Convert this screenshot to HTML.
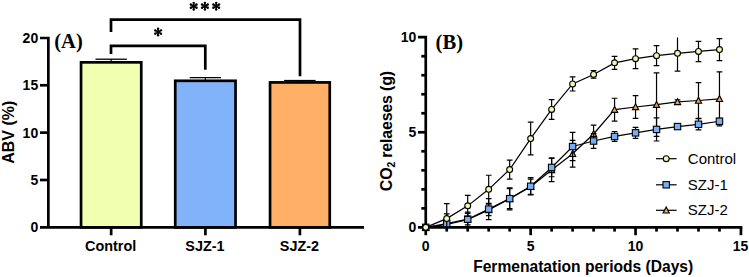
<!DOCTYPE html><html><head><meta charset="utf-8"><style>html,body{margin:0;padding:0;background:#fff;}svg{display:block;}.s{font-family:"Liberation Sans",sans-serif;}.b{font-weight:bold;}.t{font-family:"Liberation Serif",serif;font-weight:bold;}</style></head><body>
<svg width="749" height="277" viewBox="0 0 749 277">
<rect width="749" height="277" fill="#fff"/>
<rect x="81.05" y="62.34" width="60.20" height="165.01" fill="#F0FFB0" stroke="#000" stroke-width="2.7"/>
<line x1="111.15" y1="62.34" x2="111.15" y2="59.21" stroke="#000" stroke-width="1.2"/>
<line x1="95.45" y1="59.21" x2="126.85" y2="59.21" stroke="#000" stroke-width="1.3"/>
<line x1="111.15" y1="227.35" x2="111.15" y2="235.3" stroke="#000" stroke-width="2.7"/>
<text x="110.65" y="251.2" text-anchor="middle" class="s b" font-size="14.4">Control</text>
<rect x="175.25" y="80.81" width="60.30" height="146.54" fill="#80B3FA" stroke="#000" stroke-width="2.7"/>
<line x1="205.40" y1="80.81" x2="205.40" y2="77.68" stroke="#000" stroke-width="1.2"/>
<line x1="189.70" y1="77.68" x2="221.10" y2="77.68" stroke="#000" stroke-width="1.3"/>
<line x1="205.40" y1="227.35" x2="205.40" y2="235.3" stroke="#000" stroke-width="2.7"/>
<text x="204.90" y="251.2" text-anchor="middle" class="s b" font-size="14.4">SJZ-1</text>
<rect x="270.05" y="82.42" width="59.70" height="144.93" fill="#FFB066" stroke="#000" stroke-width="2.7"/>
<line x1="299.90" y1="82.42" x2="299.90" y2="80.53" stroke="#000" stroke-width="1.2"/>
<line x1="284.20" y1="80.53" x2="315.60" y2="80.53" stroke="#000" stroke-width="1.3"/>
<line x1="299.90" y1="227.35" x2="299.90" y2="235.3" stroke="#000" stroke-width="2.7"/>
<text x="299.40" y="251.2" text-anchor="middle" class="s b" font-size="14.4">SJZ-2</text>
<path d="M40 38 H48.35 V227.35" fill="none" stroke="#000" stroke-width="2.7"/>
<line x1="40" y1="227.35" x2="364" y2="227.35" stroke="#000" stroke-width="2.7"/>
<line x1="40" y1="179.99" x2="48" y2="179.99" stroke="#000" stroke-width="2.7"/>
<line x1="40" y1="132.62" x2="48" y2="132.62" stroke="#000" stroke-width="2.7"/>
<line x1="40" y1="85.26" x2="48" y2="85.26" stroke="#000" stroke-width="2.7"/>
<text x="38.2" y="232.25" text-anchor="end" class="s b" font-size="14">0</text>
<text x="38.2" y="184.89" text-anchor="end" class="s b" font-size="14">5</text>
<text x="38.2" y="137.53" text-anchor="end" class="s b" font-size="14">10</text>
<text x="38.2" y="90.16" text-anchor="end" class="s b" font-size="14">15</text>
<text x="38.2" y="42.80" text-anchor="end" class="s b" font-size="14">20</text>
<text transform="translate(14,132.3) rotate(-90)" text-anchor="middle" class="s b" font-size="16">ABV (%)</text>
<text x="54.3" y="47.9" class="t" font-size="20.5">(A)</text>
<path d="M111 32 V19.7 H300 V76.3" fill="none" stroke="#000" stroke-width="2.7"/>
<path d="M111 54 V45.8 H205.3 V69.7" fill="none" stroke="#000" stroke-width="2.7"/>
<path d="M158.10 28.70L158.10 35.30M155.24 30.35L160.96 33.65M160.96 30.35L155.24 33.65" stroke="#000" stroke-width="1.6" fill="none"/><circle cx="158.10" cy="28.70" r="1.2"/><circle cx="158.10" cy="35.30" r="1.2"/><circle cx="155.24" cy="30.35" r="1.2"/><circle cx="160.96" cy="33.65" r="1.2"/><circle cx="160.96" cy="30.35" r="1.2"/><circle cx="155.24" cy="33.65" r="1.2"/>
<path d="M193.70 2.85L193.70 9.45M190.84 4.50L196.56 7.80M196.56 4.50L190.84 7.80" stroke="#000" stroke-width="1.6" fill="none"/><circle cx="193.70" cy="2.85" r="1.2"/><circle cx="193.70" cy="9.45" r="1.2"/><circle cx="190.84" cy="4.50" r="1.2"/><circle cx="196.56" cy="7.80" r="1.2"/><circle cx="196.56" cy="4.50" r="1.2"/><circle cx="190.84" cy="7.80" r="1.2"/>
<path d="M204.90 2.85L204.90 9.45M202.04 4.50L207.76 7.80M207.76 4.50L202.04 7.80" stroke="#000" stroke-width="1.6" fill="none"/><circle cx="204.90" cy="2.85" r="1.2"/><circle cx="204.90" cy="9.45" r="1.2"/><circle cx="202.04" cy="4.50" r="1.2"/><circle cx="207.76" cy="7.80" r="1.2"/><circle cx="207.76" cy="4.50" r="1.2"/><circle cx="202.04" cy="7.80" r="1.2"/>
<path d="M216.20 2.85L216.20 9.45M213.34 4.50L219.06 7.80M219.06 4.50L213.34 7.80" stroke="#000" stroke-width="1.6" fill="none"/><circle cx="216.20" cy="2.85" r="1.2"/><circle cx="216.20" cy="9.45" r="1.2"/><circle cx="213.34" cy="4.50" r="1.2"/><circle cx="219.06" cy="7.80" r="1.2"/><circle cx="219.06" cy="4.50" r="1.2"/><circle cx="213.34" cy="7.80" r="1.2"/>
<path d="M418 37.2 H425.75 V227.35" fill="none" stroke="#000" stroke-width="2.7"/>
<line x1="418" y1="227.35" x2="742.3" y2="227.35" stroke="#000" stroke-width="2.7"/>
<line x1="421.3" y1="208.34" x2="425.75" y2="208.34" stroke="#000" stroke-width="2.7"/>
<line x1="421.3" y1="189.32" x2="425.75" y2="189.32" stroke="#000" stroke-width="2.7"/>
<line x1="421.3" y1="170.31" x2="425.75" y2="170.31" stroke="#000" stroke-width="2.7"/>
<line x1="421.3" y1="151.29" x2="425.75" y2="151.29" stroke="#000" stroke-width="2.7"/>
<line x1="418" y1="132.28" x2="425.75" y2="132.28" stroke="#000" stroke-width="2.7"/>
<line x1="421.3" y1="113.26" x2="425.75" y2="113.26" stroke="#000" stroke-width="2.7"/>
<line x1="421.3" y1="94.25" x2="425.75" y2="94.25" stroke="#000" stroke-width="2.7"/>
<line x1="421.3" y1="75.23" x2="425.75" y2="75.23" stroke="#000" stroke-width="2.7"/>
<line x1="421.3" y1="56.22" x2="425.75" y2="56.22" stroke="#000" stroke-width="2.7"/>
<line x1="425.75" y1="227.35" x2="425.75" y2="235.2" stroke="#000" stroke-width="2.7"/>
<line x1="446.73" y1="227.35" x2="446.73" y2="231.6" stroke="#000" stroke-width="2.7"/>
<line x1="467.71" y1="227.35" x2="467.71" y2="231.6" stroke="#000" stroke-width="2.7"/>
<line x1="488.69" y1="227.35" x2="488.69" y2="231.6" stroke="#000" stroke-width="2.7"/>
<line x1="509.67" y1="227.35" x2="509.67" y2="231.6" stroke="#000" stroke-width="2.7"/>
<line x1="530.65" y1="227.35" x2="530.65" y2="235.2" stroke="#000" stroke-width="2.7"/>
<line x1="551.63" y1="227.35" x2="551.63" y2="231.6" stroke="#000" stroke-width="2.7"/>
<line x1="572.61" y1="227.35" x2="572.61" y2="231.6" stroke="#000" stroke-width="2.7"/>
<line x1="593.59" y1="227.35" x2="593.59" y2="231.6" stroke="#000" stroke-width="2.7"/>
<line x1="614.57" y1="227.35" x2="614.57" y2="231.6" stroke="#000" stroke-width="2.7"/>
<line x1="635.55" y1="227.35" x2="635.55" y2="235.2" stroke="#000" stroke-width="2.7"/>
<line x1="656.53" y1="227.35" x2="656.53" y2="231.6" stroke="#000" stroke-width="2.7"/>
<line x1="677.51" y1="227.35" x2="677.51" y2="231.6" stroke="#000" stroke-width="2.7"/>
<line x1="698.49" y1="227.35" x2="698.49" y2="231.6" stroke="#000" stroke-width="2.7"/>
<line x1="719.47" y1="227.35" x2="719.47" y2="231.6" stroke="#000" stroke-width="2.7"/>
<line x1="740.95" y1="227.35" x2="740.95" y2="235.2" stroke="#000" stroke-width="2.7"/>
<text x="416.3" y="232.25" text-anchor="end" class="s b" font-size="14">0</text>
<text x="416.3" y="137.18" text-anchor="end" class="s b" font-size="14">5</text>
<text x="416.3" y="42.10" text-anchor="end" class="s b" font-size="14">10</text>
<text x="425.75" y="251" text-anchor="middle" class="s b" font-size="14">0</text>
<text x="530.65" y="251" text-anchor="middle" class="s b" font-size="14">5</text>
<text x="635.55" y="251" text-anchor="middle" class="s b" font-size="14">10</text>
<text x="740.45" y="251" text-anchor="middle" class="s b" font-size="14">15</text>
<text x="583.2" y="271.6" text-anchor="middle" class="s b" font-size="15.6">Fermenatation periods (Days)</text>
<text transform="translate(392.2,191.2) rotate(-90)" class="s b" font-size="16" letter-spacing="-0.2">CO<tspan font-size="10.5" dy="3">2</tspan><tspan dy="-3"> relaeses (g)</tspan></text>
<text x="435.6" y="49.3" class="t" font-size="20.6">(B)</text>
<defs><clipPath id="cp"><rect x="400" y="37.6" width="349" height="189.75"/></clipPath></defs>
<g clip-path="url(#cp)">
<line x1="446.73" y1="213.85" x2="446.73" y2="235.15" stroke="#000" stroke-width="1.2"/>
<line x1="443.88" y1="213.85" x2="449.58" y2="213.85" stroke="#000" stroke-width="1.2"/>
<line x1="443.88" y1="235.15" x2="449.58" y2="235.15" stroke="#000" stroke-width="1.2"/>
<line x1="467.71" y1="212.14" x2="467.71" y2="227.35" stroke="#000" stroke-width="1.2"/>
<line x1="464.86" y1="212.14" x2="470.56" y2="212.14" stroke="#000" stroke-width="1.2"/>
<line x1="464.86" y1="227.35" x2="470.56" y2="227.35" stroke="#000" stroke-width="1.2"/>
<line x1="488.69" y1="204.15" x2="488.69" y2="215.56" stroke="#000" stroke-width="1.2"/>
<line x1="485.84" y1="204.15" x2="491.54" y2="204.15" stroke="#000" stroke-width="1.2"/>
<line x1="485.84" y1="215.56" x2="491.54" y2="215.56" stroke="#000" stroke-width="1.2"/>
<line x1="509.67" y1="187.80" x2="509.67" y2="209.86" stroke="#000" stroke-width="1.2"/>
<line x1="506.82" y1="187.80" x2="512.52" y2="187.80" stroke="#000" stroke-width="1.2"/>
<line x1="506.82" y1="209.86" x2="512.52" y2="209.86" stroke="#000" stroke-width="1.2"/>
<line x1="530.65" y1="179.05" x2="530.65" y2="194.26" stroke="#000" stroke-width="1.2"/>
<line x1="527.80" y1="179.05" x2="533.50" y2="179.05" stroke="#000" stroke-width="1.2"/>
<line x1="527.80" y1="194.26" x2="533.50" y2="194.26" stroke="#000" stroke-width="1.2"/>
<line x1="551.63" y1="158.14" x2="551.63" y2="181.71" stroke="#000" stroke-width="1.2"/>
<line x1="548.78" y1="158.14" x2="554.48" y2="158.14" stroke="#000" stroke-width="1.2"/>
<line x1="548.78" y1="181.71" x2="554.48" y2="181.71" stroke="#000" stroke-width="1.2"/>
<line x1="572.61" y1="140.45" x2="572.61" y2="167.07" stroke="#000" stroke-width="1.2"/>
<line x1="569.76" y1="140.45" x2="575.46" y2="140.45" stroke="#000" stroke-width="1.2"/>
<line x1="569.76" y1="167.07" x2="575.46" y2="167.07" stroke="#000" stroke-width="1.2"/>
<line x1="593.59" y1="125.05" x2="593.59" y2="142.92" stroke="#000" stroke-width="1.2"/>
<line x1="590.74" y1="125.05" x2="596.44" y2="125.05" stroke="#000" stroke-width="1.2"/>
<line x1="590.74" y1="142.92" x2="596.44" y2="142.92" stroke="#000" stroke-width="1.2"/>
<line x1="614.57" y1="98.24" x2="614.57" y2="121.06" stroke="#000" stroke-width="1.2"/>
<line x1="611.72" y1="98.24" x2="617.42" y2="98.24" stroke="#000" stroke-width="1.2"/>
<line x1="611.72" y1="121.06" x2="617.42" y2="121.06" stroke="#000" stroke-width="1.2"/>
<line x1="635.55" y1="95.58" x2="635.55" y2="118.39" stroke="#000" stroke-width="1.2"/>
<line x1="632.70" y1="95.58" x2="638.40" y2="95.58" stroke="#000" stroke-width="1.2"/>
<line x1="632.70" y1="118.39" x2="638.40" y2="118.39" stroke="#000" stroke-width="1.2"/>
<line x1="656.53" y1="72.95" x2="656.53" y2="136.46" stroke="#000" stroke-width="1.2"/>
<line x1="653.68" y1="72.95" x2="659.38" y2="72.95" stroke="#000" stroke-width="1.2"/>
<line x1="653.68" y1="136.46" x2="659.38" y2="136.46" stroke="#000" stroke-width="1.2"/>
<line x1="677.51" y1="99.95" x2="677.51" y2="103.75" stroke="#000" stroke-width="1.2"/>
<line x1="674.66" y1="99.95" x2="680.36" y2="99.95" stroke="#000" stroke-width="1.2"/>
<line x1="674.66" y1="103.75" x2="680.36" y2="103.75" stroke="#000" stroke-width="1.2"/>
<line x1="698.49" y1="82.65" x2="698.49" y2="118.39" stroke="#000" stroke-width="1.2"/>
<line x1="695.64" y1="82.65" x2="701.34" y2="82.65" stroke="#000" stroke-width="1.2"/>
<line x1="695.64" y1="118.39" x2="701.34" y2="118.39" stroke="#000" stroke-width="1.2"/>
<line x1="719.47" y1="71.81" x2="719.47" y2="125.81" stroke="#000" stroke-width="1.2"/>
<line x1="716.62" y1="71.81" x2="722.32" y2="71.81" stroke="#000" stroke-width="1.2"/>
<line x1="716.62" y1="125.81" x2="722.32" y2="125.81" stroke="#000" stroke-width="1.2"/>
<polyline points="425.75,227.35 446.73,224.50 467.71,219.74 488.69,209.86 509.67,198.83 530.65,186.66 551.63,169.92 572.61,153.76 593.59,133.99 614.57,109.65 635.55,106.99 656.53,104.70 677.51,101.85 698.49,100.52 719.47,98.81" fill="none" stroke="#000" stroke-width="1.2"/>
</g>
<path d="M425.75 224.15 L428.85 230.05 L422.65 230.05Z" fill="#F2A055" stroke="#000" stroke-width="1.15" stroke-linejoin="miter"/>
<path d="M446.73 221.30 L449.83 227.20 L443.63 227.20Z" fill="#F2A055" stroke="#000" stroke-width="1.15" stroke-linejoin="miter"/>
<path d="M467.71 216.54 L470.81 222.44 L464.61 222.44Z" fill="#F2A055" stroke="#000" stroke-width="1.15" stroke-linejoin="miter"/>
<path d="M488.69 206.66 L491.79 212.56 L485.59 212.56Z" fill="#F2A055" stroke="#000" stroke-width="1.15" stroke-linejoin="miter"/>
<path d="M509.67 195.63 L512.77 201.53 L506.57 201.53Z" fill="#F2A055" stroke="#000" stroke-width="1.15" stroke-linejoin="miter"/>
<path d="M530.65 183.46 L533.75 189.36 L527.55 189.36Z" fill="#F2A055" stroke="#000" stroke-width="1.15" stroke-linejoin="miter"/>
<path d="M551.63 166.72 L554.73 172.62 L548.53 172.62Z" fill="#F2A055" stroke="#000" stroke-width="1.15" stroke-linejoin="miter"/>
<path d="M572.61 150.56 L575.71 156.46 L569.51 156.46Z" fill="#F2A055" stroke="#000" stroke-width="1.15" stroke-linejoin="miter"/>
<path d="M593.59 130.79 L596.69 136.69 L590.49 136.69Z" fill="#F2A055" stroke="#000" stroke-width="1.15" stroke-linejoin="miter"/>
<path d="M614.57 106.45 L617.67 112.35 L611.47 112.35Z" fill="#F2A055" stroke="#000" stroke-width="1.15" stroke-linejoin="miter"/>
<path d="M635.55 103.79 L638.65 109.69 L632.45 109.69Z" fill="#F2A055" stroke="#000" stroke-width="1.15" stroke-linejoin="miter"/>
<path d="M656.53 101.50 L659.63 107.40 L653.43 107.40Z" fill="#F2A055" stroke="#000" stroke-width="1.15" stroke-linejoin="miter"/>
<path d="M677.51 98.65 L680.61 104.55 L674.41 104.55Z" fill="#F2A055" stroke="#000" stroke-width="1.15" stroke-linejoin="miter"/>
<path d="M698.49 97.32 L701.59 103.22 L695.39 103.22Z" fill="#F2A055" stroke="#000" stroke-width="1.15" stroke-linejoin="miter"/>
<path d="M719.47 95.61 L722.57 101.51 L716.37 101.51Z" fill="#F2A055" stroke="#000" stroke-width="1.15" stroke-linejoin="miter"/>
<g clip-path="url(#cp)">
<line x1="446.73" y1="217.84" x2="446.73" y2="229.25" stroke="#000" stroke-width="1.2"/>
<line x1="443.88" y1="217.84" x2="449.58" y2="217.84" stroke="#000" stroke-width="1.2"/>
<line x1="443.88" y1="229.25" x2="449.58" y2="229.25" stroke="#000" stroke-width="1.2"/>
<line x1="467.71" y1="213.47" x2="467.71" y2="224.88" stroke="#000" stroke-width="1.2"/>
<line x1="464.86" y1="213.47" x2="470.56" y2="213.47" stroke="#000" stroke-width="1.2"/>
<line x1="464.86" y1="224.88" x2="470.56" y2="224.88" stroke="#000" stroke-width="1.2"/>
<line x1="488.69" y1="198.64" x2="488.69" y2="219.55" stroke="#000" stroke-width="1.2"/>
<line x1="485.84" y1="198.64" x2="491.54" y2="198.64" stroke="#000" stroke-width="1.2"/>
<line x1="485.84" y1="219.55" x2="491.54" y2="219.55" stroke="#000" stroke-width="1.2"/>
<line x1="509.67" y1="188.56" x2="509.67" y2="208.72" stroke="#000" stroke-width="1.2"/>
<line x1="506.82" y1="188.56" x2="512.52" y2="188.56" stroke="#000" stroke-width="1.2"/>
<line x1="506.82" y1="208.72" x2="512.52" y2="208.72" stroke="#000" stroke-width="1.2"/>
<line x1="530.65" y1="177.72" x2="530.65" y2="194.83" stroke="#000" stroke-width="1.2"/>
<line x1="527.80" y1="177.72" x2="533.50" y2="177.72" stroke="#000" stroke-width="1.2"/>
<line x1="527.80" y1="194.83" x2="533.50" y2="194.83" stroke="#000" stroke-width="1.2"/>
<line x1="551.63" y1="158.14" x2="551.63" y2="176.77" stroke="#000" stroke-width="1.2"/>
<line x1="548.78" y1="158.14" x2="554.48" y2="158.14" stroke="#000" stroke-width="1.2"/>
<line x1="548.78" y1="176.77" x2="554.48" y2="176.77" stroke="#000" stroke-width="1.2"/>
<line x1="572.61" y1="132.47" x2="572.61" y2="160.61" stroke="#000" stroke-width="1.2"/>
<line x1="569.76" y1="132.47" x2="575.46" y2="132.47" stroke="#000" stroke-width="1.2"/>
<line x1="569.76" y1="160.61" x2="575.46" y2="160.61" stroke="#000" stroke-width="1.2"/>
<line x1="593.59" y1="133.61" x2="593.59" y2="148.44" stroke="#000" stroke-width="1.2"/>
<line x1="590.74" y1="133.61" x2="596.44" y2="133.61" stroke="#000" stroke-width="1.2"/>
<line x1="590.74" y1="148.44" x2="596.44" y2="148.44" stroke="#000" stroke-width="1.2"/>
<line x1="614.57" y1="131.51" x2="614.57" y2="141.40" stroke="#000" stroke-width="1.2"/>
<line x1="611.72" y1="131.51" x2="617.42" y2="131.51" stroke="#000" stroke-width="1.2"/>
<line x1="611.72" y1="141.40" x2="617.42" y2="141.40" stroke="#000" stroke-width="1.2"/>
<line x1="635.55" y1="127.33" x2="635.55" y2="138.36" stroke="#000" stroke-width="1.2"/>
<line x1="632.70" y1="127.33" x2="638.40" y2="127.33" stroke="#000" stroke-width="1.2"/>
<line x1="632.70" y1="138.36" x2="638.40" y2="138.36" stroke="#000" stroke-width="1.2"/>
<line x1="656.53" y1="117.82" x2="656.53" y2="141.02" stroke="#000" stroke-width="1.2"/>
<line x1="653.68" y1="117.82" x2="659.38" y2="117.82" stroke="#000" stroke-width="1.2"/>
<line x1="653.68" y1="141.02" x2="659.38" y2="141.02" stroke="#000" stroke-width="1.2"/>
<line x1="677.51" y1="124.67" x2="677.51" y2="128.47" stroke="#000" stroke-width="1.2"/>
<line x1="674.66" y1="124.67" x2="680.36" y2="124.67" stroke="#000" stroke-width="1.2"/>
<line x1="674.66" y1="128.47" x2="680.36" y2="128.47" stroke="#000" stroke-width="1.2"/>
<line x1="698.49" y1="118.77" x2="698.49" y2="129.80" stroke="#000" stroke-width="1.2"/>
<line x1="695.64" y1="118.77" x2="701.34" y2="118.77" stroke="#000" stroke-width="1.2"/>
<line x1="695.64" y1="129.80" x2="701.34" y2="129.80" stroke="#000" stroke-width="1.2"/>
<line x1="719.47" y1="118.39" x2="719.47" y2="124.10" stroke="#000" stroke-width="1.2"/>
<line x1="716.62" y1="118.39" x2="722.32" y2="118.39" stroke="#000" stroke-width="1.2"/>
<line x1="716.62" y1="124.10" x2="722.32" y2="124.10" stroke="#000" stroke-width="1.2"/>
<polyline points="425.75,227.35 446.73,223.55 467.71,219.17 488.69,209.10 509.67,198.64 530.65,186.28 551.63,167.45 572.61,146.54 593.59,141.02 614.57,136.46 635.55,132.85 656.53,129.42 677.51,126.57 698.49,124.29 719.47,121.25" fill="none" stroke="#000" stroke-width="1.2"/>
</g>
<rect x="422.55" y="224.15" width="6.4" height="6.4" fill="#78AEF2" stroke="#000" stroke-width="1.1"/>
<rect x="443.53" y="220.35" width="6.4" height="6.4" fill="#78AEF2" stroke="#000" stroke-width="1.1"/>
<rect x="464.51" y="215.97" width="6.4" height="6.4" fill="#78AEF2" stroke="#000" stroke-width="1.1"/>
<rect x="485.49" y="205.90" width="6.4" height="6.4" fill="#78AEF2" stroke="#000" stroke-width="1.1"/>
<rect x="506.47" y="195.44" width="6.4" height="6.4" fill="#78AEF2" stroke="#000" stroke-width="1.1"/>
<rect x="527.45" y="183.08" width="6.4" height="6.4" fill="#78AEF2" stroke="#000" stroke-width="1.1"/>
<rect x="548.43" y="164.25" width="6.4" height="6.4" fill="#78AEF2" stroke="#000" stroke-width="1.1"/>
<rect x="569.41" y="143.34" width="6.4" height="6.4" fill="#78AEF2" stroke="#000" stroke-width="1.1"/>
<rect x="590.39" y="137.82" width="6.4" height="6.4" fill="#78AEF2" stroke="#000" stroke-width="1.1"/>
<rect x="611.37" y="133.26" width="6.4" height="6.4" fill="#78AEF2" stroke="#000" stroke-width="1.1"/>
<rect x="632.35" y="129.65" width="6.4" height="6.4" fill="#78AEF2" stroke="#000" stroke-width="1.1"/>
<rect x="653.33" y="126.22" width="6.4" height="6.4" fill="#78AEF2" stroke="#000" stroke-width="1.1"/>
<rect x="674.31" y="123.37" width="6.4" height="6.4" fill="#78AEF2" stroke="#000" stroke-width="1.1"/>
<rect x="695.29" y="121.09" width="6.4" height="6.4" fill="#78AEF2" stroke="#000" stroke-width="1.1"/>
<rect x="716.27" y="118.05" width="6.4" height="6.4" fill="#78AEF2" stroke="#000" stroke-width="1.1"/>
<g clip-path="url(#cp)">
<line x1="446.73" y1="203.58" x2="446.73" y2="233.62" stroke="#000" stroke-width="1.2"/>
<line x1="443.88" y1="203.58" x2="449.58" y2="203.58" stroke="#000" stroke-width="1.2"/>
<line x1="443.88" y1="233.62" x2="449.58" y2="233.62" stroke="#000" stroke-width="1.2"/>
<line x1="467.71" y1="195.40" x2="467.71" y2="216.32" stroke="#000" stroke-width="1.2"/>
<line x1="464.86" y1="195.40" x2="470.56" y2="195.40" stroke="#000" stroke-width="1.2"/>
<line x1="464.86" y1="216.32" x2="470.56" y2="216.32" stroke="#000" stroke-width="1.2"/>
<line x1="488.69" y1="175.25" x2="488.69" y2="203.39" stroke="#000" stroke-width="1.2"/>
<line x1="485.84" y1="175.25" x2="491.54" y2="175.25" stroke="#000" stroke-width="1.2"/>
<line x1="485.84" y1="203.39" x2="491.54" y2="203.39" stroke="#000" stroke-width="1.2"/>
<line x1="509.67" y1="160.04" x2="509.67" y2="179.05" stroke="#000" stroke-width="1.2"/>
<line x1="506.82" y1="160.04" x2="512.52" y2="160.04" stroke="#000" stroke-width="1.2"/>
<line x1="506.82" y1="179.05" x2="512.52" y2="179.05" stroke="#000" stroke-width="1.2"/>
<line x1="530.65" y1="122.20" x2="530.65" y2="154.90" stroke="#000" stroke-width="1.2"/>
<line x1="527.80" y1="122.20" x2="533.50" y2="122.20" stroke="#000" stroke-width="1.2"/>
<line x1="527.80" y1="154.90" x2="533.50" y2="154.90" stroke="#000" stroke-width="1.2"/>
<line x1="551.63" y1="99.57" x2="551.63" y2="119.34" stroke="#000" stroke-width="1.2"/>
<line x1="548.78" y1="99.57" x2="554.48" y2="99.57" stroke="#000" stroke-width="1.2"/>
<line x1="548.78" y1="119.34" x2="554.48" y2="119.34" stroke="#000" stroke-width="1.2"/>
<line x1="572.61" y1="76.94" x2="572.61" y2="91.01" stroke="#000" stroke-width="1.2"/>
<line x1="569.76" y1="76.94" x2="575.46" y2="76.94" stroke="#000" stroke-width="1.2"/>
<line x1="569.76" y1="91.01" x2="575.46" y2="91.01" stroke="#000" stroke-width="1.2"/>
<line x1="593.59" y1="70.67" x2="593.59" y2="78.27" stroke="#000" stroke-width="1.2"/>
<line x1="590.74" y1="70.67" x2="596.44" y2="70.67" stroke="#000" stroke-width="1.2"/>
<line x1="590.74" y1="78.27" x2="596.44" y2="78.27" stroke="#000" stroke-width="1.2"/>
<line x1="614.57" y1="56.41" x2="614.57" y2="69.34" stroke="#000" stroke-width="1.2"/>
<line x1="611.72" y1="56.41" x2="617.42" y2="56.41" stroke="#000" stroke-width="1.2"/>
<line x1="611.72" y1="69.34" x2="617.42" y2="69.34" stroke="#000" stroke-width="1.2"/>
<line x1="635.55" y1="48.80" x2="635.55" y2="68.57" stroke="#000" stroke-width="1.2"/>
<line x1="632.70" y1="48.80" x2="638.40" y2="48.80" stroke="#000" stroke-width="1.2"/>
<line x1="632.70" y1="68.57" x2="638.40" y2="68.57" stroke="#000" stroke-width="1.2"/>
<line x1="656.53" y1="45.57" x2="656.53" y2="65.72" stroke="#000" stroke-width="1.2"/>
<line x1="653.68" y1="45.57" x2="659.38" y2="45.57" stroke="#000" stroke-width="1.2"/>
<line x1="653.68" y1="65.72" x2="659.38" y2="65.72" stroke="#000" stroke-width="1.2"/>
<line x1="677.51" y1="35.68" x2="677.51" y2="71.05" stroke="#000" stroke-width="1.2"/>
<line x1="674.66" y1="35.68" x2="680.36" y2="35.68" stroke="#000" stroke-width="1.2"/>
<line x1="674.66" y1="71.05" x2="680.36" y2="71.05" stroke="#000" stroke-width="1.2"/>
<line x1="698.49" y1="41.38" x2="698.49" y2="61.54" stroke="#000" stroke-width="1.2"/>
<line x1="695.64" y1="41.38" x2="701.34" y2="41.38" stroke="#000" stroke-width="1.2"/>
<line x1="695.64" y1="61.54" x2="701.34" y2="61.54" stroke="#000" stroke-width="1.2"/>
<line x1="719.47" y1="38.53" x2="719.47" y2="60.59" stroke="#000" stroke-width="1.2"/>
<line x1="716.62" y1="38.53" x2="722.32" y2="38.53" stroke="#000" stroke-width="1.2"/>
<line x1="716.62" y1="60.59" x2="722.32" y2="60.59" stroke="#000" stroke-width="1.2"/>
<polyline points="425.75,227.35 446.73,218.60 467.71,205.86 488.69,189.32 509.67,169.54 530.65,138.55 551.63,109.46 572.61,83.98 593.59,74.47 614.57,62.87 635.55,58.69 656.53,55.64 677.51,53.36 698.49,51.46 719.47,49.56" fill="none" stroke="#000" stroke-width="1.2"/>
</g>
<circle cx="425.75" cy="227.35" r="2.95" fill="#F1F6B2" stroke="#000" stroke-width="1.1"/>
<circle cx="446.73" cy="218.60" r="2.95" fill="#F1F6B2" stroke="#000" stroke-width="1.1"/>
<circle cx="467.71" cy="205.86" r="2.95" fill="#F1F6B2" stroke="#000" stroke-width="1.1"/>
<circle cx="488.69" cy="189.32" r="2.95" fill="#F1F6B2" stroke="#000" stroke-width="1.1"/>
<circle cx="509.67" cy="169.54" r="2.95" fill="#F1F6B2" stroke="#000" stroke-width="1.1"/>
<circle cx="530.65" cy="138.55" r="2.95" fill="#F1F6B2" stroke="#000" stroke-width="1.1"/>
<circle cx="551.63" cy="109.46" r="2.95" fill="#F1F6B2" stroke="#000" stroke-width="1.1"/>
<circle cx="572.61" cy="83.98" r="2.95" fill="#F1F6B2" stroke="#000" stroke-width="1.1"/>
<circle cx="593.59" cy="74.47" r="2.95" fill="#F1F6B2" stroke="#000" stroke-width="1.1"/>
<circle cx="614.57" cy="62.87" r="2.95" fill="#F1F6B2" stroke="#000" stroke-width="1.1"/>
<circle cx="635.55" cy="58.69" r="2.95" fill="#F1F6B2" stroke="#000" stroke-width="1.1"/>
<circle cx="656.53" cy="55.64" r="2.95" fill="#F1F6B2" stroke="#000" stroke-width="1.1"/>
<circle cx="677.51" cy="53.36" r="2.95" fill="#F1F6B2" stroke="#000" stroke-width="1.1"/>
<circle cx="698.49" cy="51.46" r="2.95" fill="#F1F6B2" stroke="#000" stroke-width="1.1"/>
<circle cx="719.47" cy="49.56" r="2.95" fill="#F1F6B2" stroke="#000" stroke-width="1.1"/>
<line x1="656" y1="158.7" x2="676.6" y2="158.7" stroke="#000" stroke-width="1.2"/>
<circle cx="666.20" cy="158.70" r="2.95" fill="#F1F6B2" stroke="#000" stroke-width="1.1"/>
<text x="687.8" y="163.6" class="s" font-size="15">Control</text>
<line x1="656" y1="184.8" x2="676.6" y2="184.8" stroke="#000" stroke-width="1.2"/>
<rect x="663.00" y="181.60" width="6.4" height="6.4" fill="#78AEF2" stroke="#000" stroke-width="1.1"/>
<text x="687.8" y="189.7" class="s" font-size="15">SZJ-1</text>
<line x1="656" y1="210.3" x2="676.6" y2="210.3" stroke="#000" stroke-width="1.2"/>
<path d="M666.20 207.10 L669.30 213.00 L663.10 213.00Z" fill="#F2A055" stroke="#000" stroke-width="1.15" stroke-linejoin="miter"/>
<text x="687.8" y="215.2" class="s" font-size="15">SZJ-2</text>
</svg></body></html>
